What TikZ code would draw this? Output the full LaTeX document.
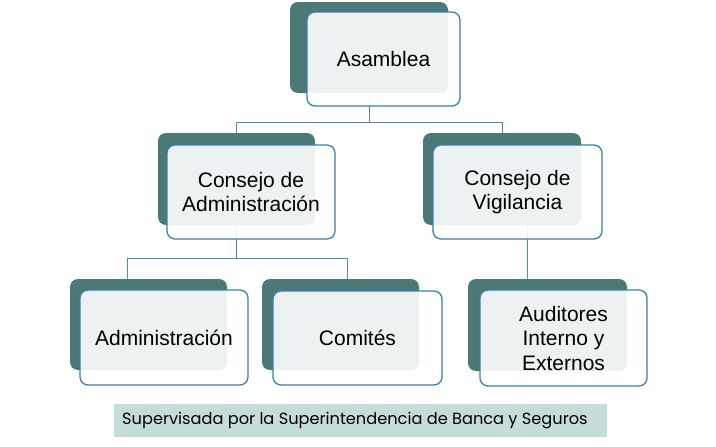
\documentclass[tikz,border=0pt]{standalone}
\usepackage{fontspec}
\setmainfont{Liberation Sans}
\newfontfamily\popfont{Poppins}
\usetikzlibrary{calc}
\definecolor{darkteal}{HTML}{4B7A76}
\definecolor{frontline}{HTML}{3F7DAA}
\definecolor{connline}{HTML}{4A8BB8}
\definecolor{notefill}{HTML}{C6DCDA}
\tikzset{
  back/.style={fill=darkteal, rounded corners=8pt, draw=none, inner sep=0pt},
  front/.style={fill=white, fill opacity=0.9, text opacity=1, draw=frontline, line width=1.3pt,
    rounded corners=8pt, inner sep=0pt, align=center, font=\fontsize{21}{24.5}\selectfont},
  conn/.style={draw=connline, line width=1pt},
}
\begin{document}
\begin{tikzpicture}[x=1pt,y=-1pt]
\useasboundingbox (0,0) rectangle (716,447);
% dark back boxes
\node[back, minimum width=158pt, minimum height=91pt] (asd) at (369,47.5) {};
\node[back, minimum width=157pt, minimum height=92pt] (cad) at (236.5,179) {};
\node[back, minimum width=158pt, minimum height=92pt] (cvd) at (502,179) {};
\node[back, minimum width=157pt, minimum height=91pt] (admd) at (148.5,324.5) {};
\node[back, minimum width=157pt, minimum height=91pt] (comd) at (340.5,324.5) {};
\node[back, minimum width=159pt, minimum height=92pt] (aud) at (547.5,325) {};
% connectors
\draw[conn] (asd.south) -- ++(0,29) coordinate (ja);
\draw[conn] (ja) -| (cad.north);
\draw[conn] (ja) -| (cvd.north);
\draw[conn] (cad.south) -- ++(0,33) coordinate (jb);
\draw[conn] (jb) -| ($(admd.north)+(-21.5,0)$);
\draw[conn] (jb) -| ($(comd.north)+(6.5,0)$);
\draw[conn] ($(cvd.south)+(25,0)$) -- ($(aud.north)+(-20.5,0)$);
% front boxes
\node[front, minimum width=153pt, minimum height=94pt] (asf) at (383.5,59) {Asamblea};
\node[front, minimum width=168pt, minimum height=94pt] (caf) at (251,192) {Consejo de\\Administración};
\node[front, minimum width=169pt, minimum height=94pt] (cvf) at (517.5,192) {Consejo de\\Vigilancia};
\node[front, minimum width=168pt, minimum height=95pt] (admf) at (164,337.5) {Administración};
\node[front, minimum width=169pt, minimum height=94pt] (comf) at (357.5,338) {Comités};
\node[front, minimum width=167pt, minimum height=96pt] (auf) at (563.5,338) {Auditores\\Interno y\\Externos};
% note
\node[fill=notefill, minimum width=493pt, minimum height=33pt, inner sep=0pt] (note) at (360.5,420.5) {};
\node[anchor=west, inner sep=0pt, font=\popfont\fontsize{16.2}{19}\selectfont] (notetext) at (122,421) {Supervisada por la Superintendencia de Banca y Seguros};
\end{tikzpicture}
\end{document}
